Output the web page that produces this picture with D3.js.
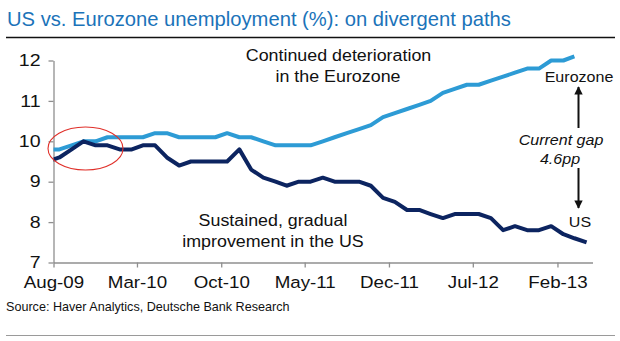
<!DOCTYPE html>
<html>

<head>
    <meta charset="UTF-8">
    <style>
        body { margin: 0; background: #fff; }
        svg { display: block; font-family: "Liberation Sans", Arial, sans-serif; }
    </style>
</head>

<body>
    <svg></svg>
    <script src="https://d3js.org/d3.v7.min.js"></script>

    <script>
        const width = 620, height = 341;

        // monthly observations, Jul-09 .. Apr-13
        const months = [
            "Jul-09", "Aug-09", "Sep-09", "Oct-09", "Nov-09", "Dec-09",
            "Jan-10", "Feb-10", "Mar-10", "Apr-10", "May-10", "Jun-10",
            "Jul-10", "Aug-10", "Sep-10", "Oct-10", "Nov-10", "Dec-10",
            "Jan-11", "Feb-11", "Mar-11", "Apr-11", "May-11", "Jun-11",
            "Jul-11", "Aug-11", "Sep-11", "Oct-11", "Nov-11", "Dec-11",
            "Jan-12", "Feb-12", "Mar-12", "Apr-12", "May-12", "Jun-12",
            "Jul-12", "Aug-12", "Sep-12", "Oct-12", "Nov-12", "Dec-12",
            "Jan-13", "Feb-13", "Mar-13", "Apr-13"
        ];

        // Eurozone (to Mar-13)
        const eurozone = [
            9.8, 9.8, 9.9, 10.0, 10.0, 10.1,
            10.1, 10.1, 10.1, 10.2, 10.2, 10.1,
            10.1, 10.1, 10.1, 10.2, 10.1, 10.1,
            10.0, 9.9, 9.9, 9.9, 9.9, 10.0,
            10.1, 10.2, 10.3, 10.4, 10.6, 10.7,
            10.8, 10.9, 11.0, 11.2, 11.3, 11.4,
            11.4, 11.5, 11.6, 11.7, 11.8, 11.8,
            12.0, 12.0, 12.1
        ];

        // US (to Apr-13)
        const us = [
            9.5, 9.6, 9.8, 10.0, 9.9, 9.9,
            9.8, 9.8, 9.9, 9.9, 9.6, 9.4,
            9.5, 9.5, 9.5, 9.5, 9.8, 9.3,
            9.1, 9.0, 8.9, 9.0, 9.0, 9.1,
            9.0, 9.0, 9.0, 8.9, 8.6, 8.5,
            8.3, 8.3, 8.2, 8.1, 8.2, 8.2,
            8.2, 8.1, 7.8, 7.9, 7.8, 7.8,
            7.9, 7.7, 7.6, 7.5
        ];

        const xTickLabels = ["Aug-09", "Mar-10", "Oct-10", "May-11", "Dec-11", "Jul-12", "Feb-13"];
        const yTicks = [7, 8, 9, 10, 11, 12];
        const xStart = "Aug-09", xEnd = "May-13";

        const plot = { left: 53.5, right: 592.5, top: 60.5, bottom: 262.5 };
        const stretch = 1.13;   // chart lettering is a touch wide

        const parseMonth = d3.timeParse("%b-%y");
        const fmtMonth = d3.timeFormat("%b-%y");
        // monthly values sit in the middle of their month
        const midMonth = s => d3.timeDay.offset(parseMonth(s), 15);

        const svg = d3.select("svg")
            .attr("width", width)
            .attr("height", height)
            .attr("viewBox", "0 0 " + width + " " + height);

        const x = d3.scaleTime()
            .domain([parseMonth(xStart), parseMonth(xEnd)])
            .range([plot.left, plot.right]);

        const y = d3.scaleLinear()
            .domain([7, 12])
            .range([plot.bottom, plot.top]);

        // title + rule
        svg.append("text")
            .attr("x", 7)
            .attr("y", 25.5)
            .attr("fill", "#1b73b9")
            .attr("font-size", "20.2px")
            .text("US vs. Eurozone unemployment (%): on divergent paths");

        svg.append("line")
            .attr("x1", 6).attr("x2", 615)
            .attr("y1", 37.5).attr("y2", 37.5)
            .attr("stroke", "#111")
            .attr("stroke-width", 1.6);

        // axes
        const axisColor = "#8f8f8f";
        const yPad = 8, xPad = 9, tickLen = 5;

        const yAxis = svg.append("g")
            .attr("transform", "translate(" + plot.left + ",0)")
            .call(d3.axisLeft(y)
                .tickValues(yTicks)
                .tickFormat(d3.format("d"))
                .tickSize(tickLen)
                .tickPadding(yPad)
                .tickSizeOuter(0));

        const xAxis = svg.append("g")
            .attr("transform", "translate(0," + plot.bottom + ")")
            .call(d3.axisBottom(x)
                .tickValues(xTickLabels.map(parseMonth))
                .tickFormat(fmtMonth)
                .tickSize(tickLen)
                .tickPadding(xPad)
                .tickSizeOuter(0));

        [yAxis, xAxis].forEach(g => {
            g.select(".domain").attr("stroke", axisColor).attr("stroke-width", 1.3);
            g.selectAll(".tick line").attr("stroke", axisColor).attr("stroke-width", 1.3);
            g.selectAll(".tick text")
                .attr("fill", "#111")
                .attr("font-size", "16.3px")
                .attr("font-family", "'Liberation Sans', Arial, sans-serif");
        });
        // widen tick labels, keeping their anchor points
        yAxis.selectAll(".tick text")
            .attr("x", -(tickLen + yPad) / 1.2)
            .attr("transform", "scale(1.2,1)");
        xAxis.selectAll(".tick text")
            .attr("transform", "scale(1.15,1)");

        // lines, clipped to the plot area
        svg.append("clipPath")
            .attr("id", "plot-clip")
            .append("rect")
            .attr("x", plot.left)
            .attr("y", 0)
            .attr("width", plot.right - plot.left)
            .attr("height", height);

        const line = d3.line()
            .x(d => x(midMonth(d.month)))
            .y(d => y(d.value));

        const series = [
            { name: "Eurozone", values: eurozone, color: "#2d9bd5" },
            { name: "US", values: us, color: "#0c2460" }
        ];

        svg.append("g")
            .attr("clip-path", "url(#plot-clip)")
            .selectAll("path")
            .data(series)
            .join("path")
            .attr("fill", "none")
            .attr("stroke", d => d.color)
            .attr("stroke-width", 4)
            .attr("stroke-linejoin", "round")
            .attr("d", d => line(d.values.map((v, i) => ({ month: months[i], value: v }))));

        // red circle around the crossover
        svg.append("ellipse")
            .attr("cx", 85.5)
            .attr("cy", 148.5)
            .attr("rx", 37.5)
            .attr("ry", 21.5)
            .attr("fill", "none")
            .attr("stroke", "#e0302a")
            .attr("stroke-width", 1.1);

        // annotations
        const note = (txt, cx, cy, size, italic) => svg.append("text")
            .attr("transform", "translate(" + cx + "," + cy + ") scale(" + stretch + ",1)")
            .attr("text-anchor", "middle")
            .attr("font-size", size + "px")
            .attr("font-style", italic ? "italic" : "normal")
            .attr("fill", "#111")
            .text(txt);

        note("Continued deterioration", 338.5, 61, 15.8);
        note("in the Eurozone", 338, 81.5, 15.8);
        note("Sustained, gradual", 273, 226, 15.8);
        note("improvement in the US", 273, 246.5, 15.8);
        note("Eurozone", 579, 81.5, 14.2);
        note("Current gap", 561, 145, 14.2, true);
        note("4.6pp", 560, 164, 14.2, true);
        note("US", 580, 226.5, 14.2);

        // gap arrows
        svg.append("defs").append("marker")
            .attr("id", "head")
            .attr("viewBox", "0 0 10 10")
            .attr("refX", 9).attr("refY", 5)
            .attr("markerWidth", 4.6).attr("markerHeight", 4.2)
            .attr("markerUnits", "strokeWidth")
            .attr("orient", "auto")
            .append("path")
            .attr("d", "M0,0L10,5L0,10Z")
            .attr("fill", "#111");

        [[578.5, 128, 87], [578.5, 168, 208]].forEach(a => {
            svg.append("line")
                .attr("x1", a[0]).attr("x2", a[0])
                .attr("y1", a[1]).attr("y2", a[2])
                .attr("stroke", "#111")
                .attr("stroke-width", 2)
                .attr("marker-end", "url(#head)");
        });

        // source + bottom rule
        svg.append("text")
            .attr("x", 6)
            .attr("y", 311)
            .attr("font-size", "12.6px")
            .attr("fill", "#111")
            .text("Source: Haver Analytics, Deutsche Bank Research");

        svg.append("line")
            .attr("x1", 6).attr("x2", 615)
            .attr("y1", 335.5).attr("y2", 335.5)
            .attr("stroke", "#9a9a9a")
            .attr("stroke-width", 1);
    </script>

</body>

</html>
